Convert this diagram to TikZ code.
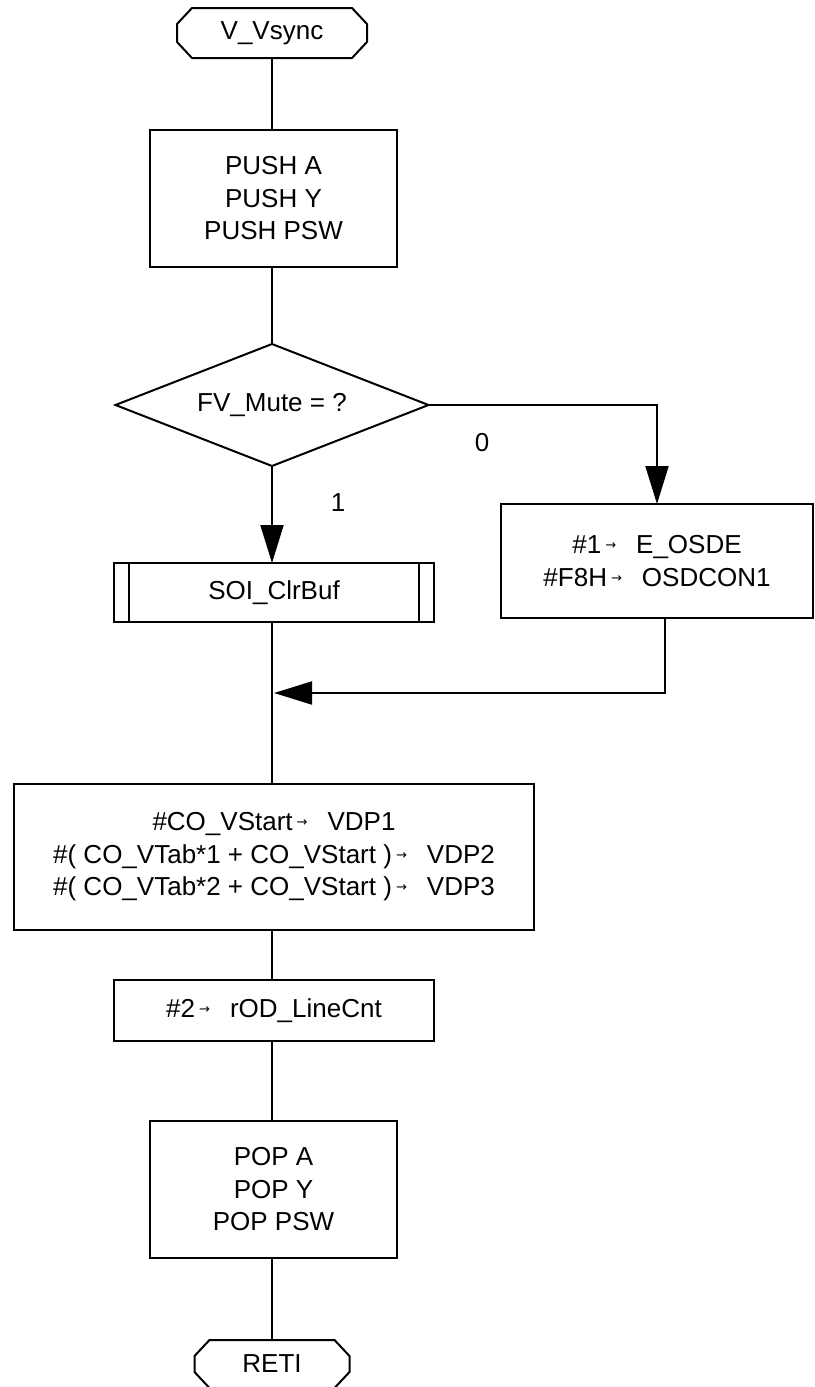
\documentclass[tikz,border=0pt]{standalone}
\usepackage{fontspec}
\setmainfont{Liberation Sans}
\newfontfamily\symfont{DejaVu Sans}
\usetikzlibrary{arrows.meta}
\newcommand{\sarr}{\raisebox{4pt}{\fontsize{13}{13}\selectfont\symfont →}}
\begin{document}
\begin{tikzpicture}[x=1pt,y=-1pt,
  every node/.style={font=\fontsize{26}{32.5}\selectfont, outer sep=0pt, inner sep=0pt},
  line/.style={line width=2pt},
  box/.style={draw, line width=2pt, rectangle, align=center},
  termtext/.style={rectangle, align=center},
  arr/.style={line width=2pt, -{Triangle[length=38pt,width=23pt]}}]
\useasboundingbox (0,0) rectangle (814,1387);

% nodes
\node[termtext, minimum width=190, minimum height=50] (start) at (272,33) {V\_Vsync};
\node[box, minimum width=247, minimum height=137] (push) at (273.5,198.5) {PUSH A\\PUSH Y\\PUSH PSW};
\node[termtext, minimum width=313, minimum height=122] (dec) at (272,405) {FV\_Mute = ?};
\node[box, minimum width=320, minimum height=59] (soi) at (274,592.5) {SOI\_ClrBuf};
\node[box, minimum width=312, minimum height=114] (osd) at (657,561)
  {\#1\hspace{4pt}\sarr\hspace{20pt}E\_OSDE\\\#F8H\hspace{4pt}\sarr\hspace{20pt}OSDCON1};
\node[box, minimum width=520, minimum height=146] (vdp) at (274,857)
  {\#CO\_VStart\hspace{4pt}\sarr\hspace{20pt}VDP1\\
   \#( CO\_VTab*1 + CO\_VStart )\hspace{4pt}\sarr\hspace{20pt}VDP2\\
   \#( CO\_VTab*2 + CO\_VStart )\hspace{4pt}\sarr\hspace{20pt}VDP3};
\node[box, minimum width=320, minimum height=61] (lcnt) at (274,1010.5)
  {\#2\hspace{4pt}\sarr\hspace{20pt}rOD\_LineCnt};
\node[box, minimum width=247, minimum height=137] (pop) at (273.5,1189.5) {POP A\\POP Y\\POP PSW};
\node[termtext, minimum width=155, minimum height=48] (end) at (272,1364) {RETI};
\node (l0) at (482,443) {0};
\node (l1) at (338,503) {1};

% terminal outlines
\foreach \n in {start,end}{
  \draw[line] ([xshift=15pt]\n.north west) -- ([xshift=-15pt]\n.north east)
    -- ([yshift=-16pt]\n.north east) -- ([yshift=16pt]\n.south east)
    -- ([xshift=-15pt]\n.south east) -- ([xshift=15pt]\n.south west)
    -- ([yshift=16pt]\n.south west) -- ([yshift=-16pt]\n.north west) -- cycle;
}
% decision outline
\draw[line] (dec.north) -- (dec.east) -- (dec.south) -- (dec.west) -- cycle;
% subroutine bars
\draw[line] ([xshift=15pt]soi.north west) -- ([xshift=15pt]soi.south west);
\draw[line] ([xshift=-15pt]soi.north east) -- ([xshift=-15pt]soi.south east);

% connectors
\coordinate (m) at (274,693);
\draw[line] (start.south) -- (start.south |- push.north);
\draw[line] (start.south |- push.south) -- (dec.north);
\draw[arr] (dec.south) -- (dec.south |- soi.north);
\draw[arr] (dec.east) -| (osd.north);
\draw[line] (dec.south |- soi.south) -- (dec.south |- vdp.north);
\draw[arr] ([xshift=8pt]osd.south) |- (m);
\draw[line] (dec.south |- vdp.south) -- (dec.south |- lcnt.north);
\draw[line] (dec.south |- lcnt.south) -- (dec.south |- pop.north);
\draw[line] (dec.south |- pop.south) -- (end.north);
\end{tikzpicture}
\end{document}
